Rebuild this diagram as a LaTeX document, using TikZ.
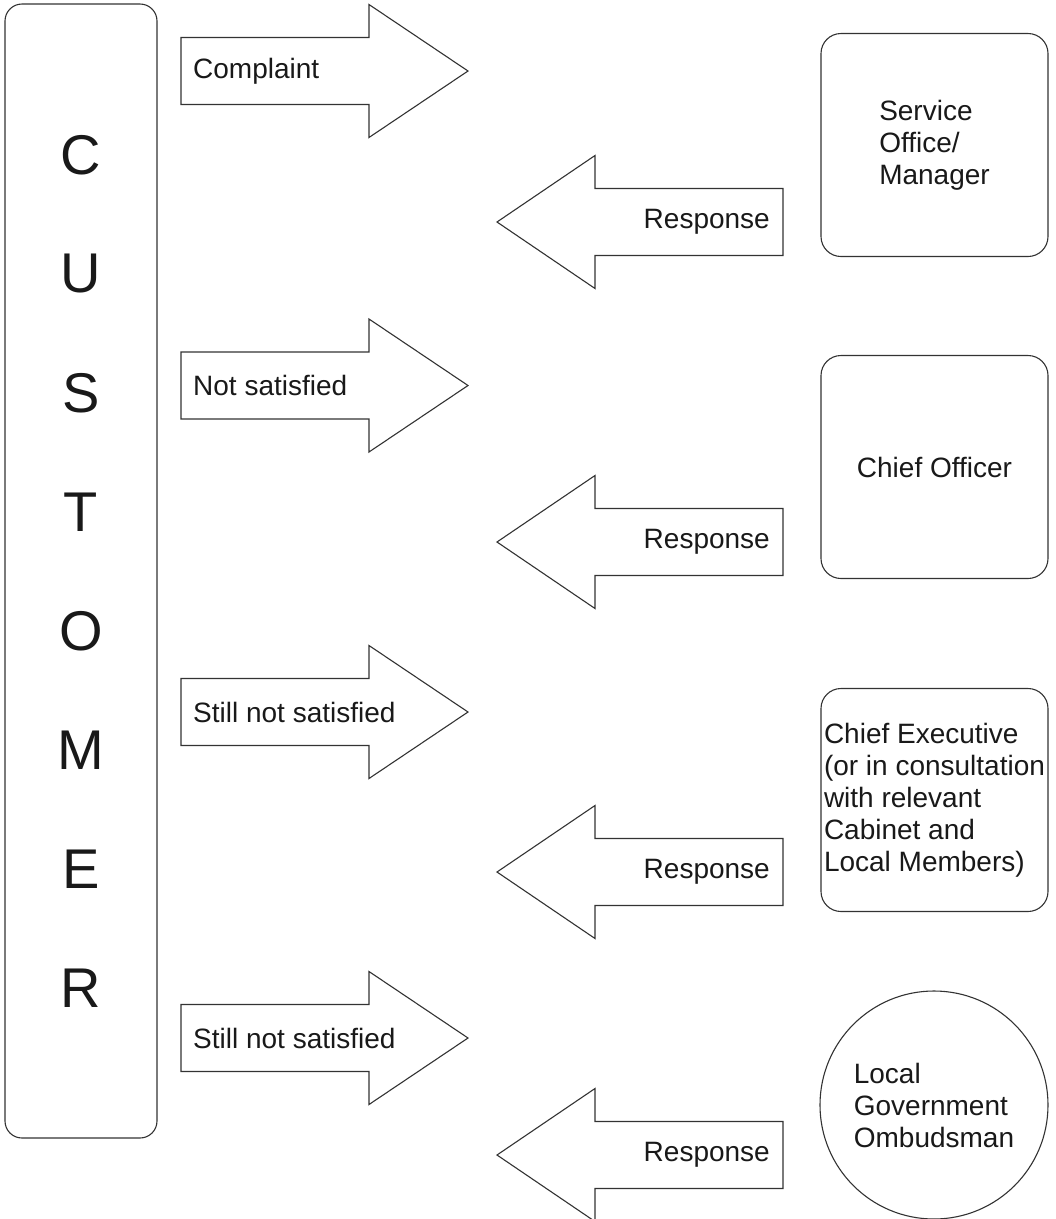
\documentclass[tikz,border=0pt]{standalone}
\usepackage{fontspec}
\setmainfont{Liberation Sans}
\usetikzlibrary{positioning}

\begin{document}
\begin{tikzpicture}[x=1pt, y=-1pt,
		outline/.style={draw=black!80, line width=1.1pt},
		arrowtext/.style={font=\fontsize{28}{32}\selectfont, text=black!90, inner sep=0pt},
		officebox/.style={outline, rounded corners=20pt, minimum width=227pt, minimum height=223pt, inner sep=0pt, align=left, font=\fontsize{28}{32}\selectfont, text=black!90},
		bigletter/.style={font=\fontsize{56}{60}\selectfont, text=black!90}]
				\fill[white, use as bounding box] (0,0) rectangle (1056,1219);
				% customer column
				\node[outline, rounded corners=17pt, minimum width=152pt, minimum height=1134pt, inner sep=0pt] (customer) at (81,571) {};
				\foreach \l [count=\k from 0] in {C,U,S,T,O,M,E,R}
					\node[bigletter] (letter\k) at (81,{155+119*\k}) {\l};
				% arrows to the right
				\foreach \y/\txt [count=\i] in {71/Complaint, 385.5/Not satisfied, 712/Still not satisfied, 1038/Still not satisfied} {
					\draw[outline] (181,\y-33.5) -- (369,\y-33.5) -- (369,\y-66.5) -- (468,\y) -- (369,\y+66.5) -- (369,\y+33.5) -- (181,\y+33.5) -- cycle;
					\node[arrowtext, anchor=west] (ask\i) at (193,\y) {\txt};
				}
				% arrows back
				\foreach \y [count=\i] in {222,542,872,1155} {
					\draw[outline] (783,\y-33.5) -- (595,\y-33.5) -- (595,\y-66.5) -- (497,\y) -- (595,\y+66.5) -- (595,\y+33.5) -- (783,\y+33.5) -- cycle;
					\node[arrowtext, anchor=east] (reply\i) at (770,\y) {Response};
				}
				% who deals with it
				\node[officebox] (service) at (934.5,145) {Service\\Office/\\Manager};
				\node[officebox] (chiefofficer) at (934.5,467) {Chief Officer};
				\node[officebox] (chiefexec) at (934.5,800) {Chief Executive\\(or in consultation\\with relevant\\Cabinet and\\Local Members)};
				\node[outline, circle, minimum size=228pt, inner sep=0pt, align=left, font=\fontsize{28}{32}\selectfont, text=black!90] (ombudsman) at (934,1105) {Local\\Government\\Ombudsman};
			\end{tikzpicture}
\end{document}
